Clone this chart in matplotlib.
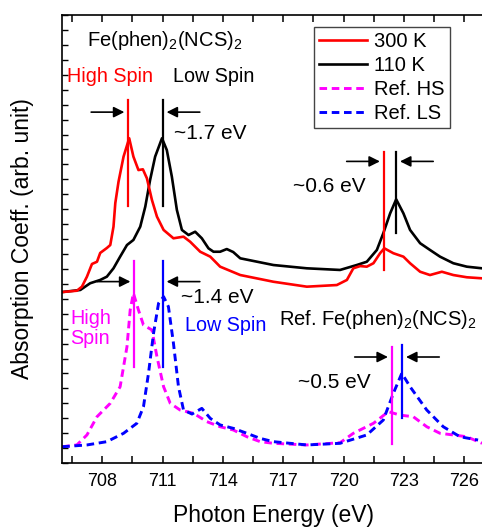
import matplotlib
matplotlib.use("Agg")
import matplotlib.pyplot as plt
from matplotlib.ticker import MultipleLocator, NullFormatter

plt.rcParams["font.family"] = ["Liberation Sans", "DejaVu Sans"]
plt.rcParams["mathtext.default"] = "regular"

# 300 K (high spin) spectrum
e_300 = [706.01, 706.74, 706.99, 707.24, 707.49, 707.74, 707.90, 708.23, 708.40, 708.56,
         708.65, 708.81, 709.06, 709.34, 709.55, 709.80, 710.02, 710.22, 710.47, 710.72,
         711.05, 711.54, 712.04, 712.37, 712.87, 713.37, 713.86, 714.86, 716.51, 718.17,
         719.66, 720.16, 720.48, 720.82, 721.15, 721.48, 721.81, 722.02, 722.47, 722.97,
         723.30, 723.80, 724.29, 724.88, 725.45, 726.12, 726.88]
a_300 = [11.45, 11.54, 11.81, 12.48, 13.33, 13.48, 14.07, 14.40, 14.60, 15.83,
         17.41, 18.84, 20.52, 21.75, 20.52, 19.62, 19.67, 19.07, 17.62, 16.50,
         15.61, 15.05, 15.16, 14.82, 14.15, 13.82, 13.15, 12.59, 12.14, 11.81,
         11.92, 12.26, 13.04, 13.19, 13.15, 13.38, 14.05, 14.38, 14.05, 13.82,
         13.38, 12.81, 12.59, 12.81, 12.59, 12.44, 12.37]

# 110 K (low spin) spectrum
e_110 = [706.01, 706.91, 707.40, 707.90, 708.23, 708.56, 708.89, 709.23, 709.55, 709.89,
         710.14, 710.38, 710.63, 710.97, 711.21, 711.46, 711.71, 711.96, 712.29, 712.62,
         712.95, 713.28, 713.53, 713.86, 714.19, 714.51, 714.86, 716.51, 718.17, 719.82,
         720.65, 721.15, 721.65, 721.97, 722.31, 722.61, 722.97, 723.30, 723.80, 724.29,
         724.79, 725.45, 726.12, 726.88]
a_110 = [11.45, 11.59, 12.04, 12.26, 12.48, 13.04, 13.82, 14.60, 14.94, 15.83,
         17.17, 18.96, 20.52, 21.75, 20.96, 19.18, 16.95, 15.61, 15.27, 15.49,
         15.05, 14.38, 14.15, 14.15, 14.33, 14.13, 13.71, 13.26, 13.04, 12.93,
         13.26, 13.48, 14.27, 15.39, 16.72, 17.66, 16.72, 15.61, 14.72, 14.27,
         13.82, 13.38, 13.15, 13.04]

# reference high spin spectrum
e_ref_hs = [706.01, 706.74, 707.24, 707.74, 708.40, 708.89, 709.23, 709.39, 709.55, 709.80,
            710.05, 710.47, 710.72, 711.05, 711.38, 711.87, 712.54, 713.20, 713.86, 714.52,
            715.19, 715.85, 716.51, 718.17, 719.82, 720.48, 721.48, 722.22, 722.80, 723.46,
            724.13, 724.79, 725.45, 726.12, 726.88]
a_ref_hs = [1.09, 1.21, 1.88, 3.10, 4.00, 5.11, 7.79, 10.25, 11.37, 10.25,
            9.24, 8.91, 7.12, 5.11, 4.00, 3.55, 3.33, 2.77, 2.43, 2.21,
            1.76, 1.43, 1.32, 1.21, 1.36, 1.99, 2.66, 3.44, 3.21, 3.10,
            2.43, 1.99, 1.88, 1.76, 1.32]

# reference low spin spectrum
e_ref_ls = [706.01, 707.24, 708.23, 709.06, 709.72, 710.05, 710.30, 710.55, 710.80, 711.05,
            711.29, 711.54, 711.79, 712.04, 712.46, 712.95, 713.37, 713.86, 714.52, 715.19,
            715.85, 716.51, 718.17, 719.82, 721.15, 721.97, 722.47, 722.89, 723.30, 724.13,
            724.95, 725.78, 726.68]
a_ref_ls = [1.09, 1.21, 1.43, 1.99, 2.66, 3.77, 6.01, 8.69, 10.70, 11.14,
            10.47, 8.02, 5.11, 3.55, 3.28, 3.66, 2.99, 2.55, 2.32, 1.99,
            1.65, 1.43, 1.21, 1.32, 1.88, 2.88, 4.67, 6.01, 5.11, 3.55,
            2.43, 1.76, 1.54]

# peak positions (L3, L2) used for the markers and shift labels
peak_300 = [709.3, 722.0]
peak_110 = [711.0, 722.6]
peak_ref_hs = [709.6, 722.4]
peak_ref_ls = [711.0, 722.9]

RED, BLACK, MAG, BLUE = "#ff0000", "#000000", "#ff00ff", "#0000ff"
DASH = (0, (2.6, 1.6))

fig = plt.figure(figsize=(4.82, 5.27), dpi=100)
ax = fig.add_axes([0.1286, 0.1214, 0.8766, 0.850])

h110, = ax.plot(e_110, a_110, color=BLACK, lw=1.9, label="110 K")
h300, = ax.plot(e_300, a_300, color=RED, lw=1.9, label="300 K")
hhs, = ax.plot(e_ref_hs, a_ref_hs, color=MAG, lw=2.1, ls=DASH, label="Ref. HS")
hls, = ax.plot(e_ref_ls, a_ref_ls, color=BLUE, lw=2.1, ls=DASH, label="Ref. LS")


def shift_marker(x_hs, x_ls, c_hs, c_ls, span_hs, span_ls, y_arrow, text_xy, gap=0.2, length=1.65):
    ax.plot([x_hs, x_hs], span_hs, color=c_hs, lw=1.6)
    ax.plot([x_ls, x_ls], span_ls, color=c_ls, lw=1.6)
    arrow = dict(arrowstyle="-|>", color="k", lw=1.2, mutation_scale=16, shrinkA=0, shrinkB=0)
    ax.annotate("", xy=(x_hs - gap, y_arrow), xytext=(x_hs - gap - length, y_arrow), arrowprops=arrow)
    ax.annotate("", xy=(x_ls + gap, y_arrow), xytext=(x_ls + gap + length, y_arrow), arrowprops=arrow)
    ax.text(text_xy[0], text_xy[1], f"~{x_ls - x_hs:.1f} eV", fontsize=15, va="center", ha="left")


# measured L3 / L2 shifts
shift_marker(peak_300[0], peak_110[0], RED, BLACK, (17.2, 24.3), (17.2, 24.3), 23.5, (711.55, 22.1))
shift_marker(peak_300[1], peak_110[1], RED, BLACK, (12.9, 20.8), (15.4, 20.8), 20.2, (717.5, 18.5))
# reference L3 / L2 shifts
shift_marker(peak_ref_hs[0], peak_ref_ls[0], MAG, BLUE, (6.4, 13.5), (6.4, 13.5), 12.15, (711.9, 11.1))
shift_marker(peak_ref_hs[1], peak_ref_ls[1], MAG, BLUE, (1.3, 7.8), (3.0, 7.9), 7.1, (717.75, 5.4))

ax.text(707.23, 28.33, "Fe(phen)$_2$(NCS)$_2$", fontsize=14.5, va="center", ha="left")
ax.text(706.25, 25.87, "High Spin", color=RED, fontsize=14.2, va="center", ha="left")
ax.text(711.53, 25.87, "Low Spin", color=BLACK, fontsize=14.2, va="center", ha="left")
ax.text(706.41, 9.0, "High\nSpin", color=MAG, fontsize=14.2, va="center", ha="left", linespacing=1.1)
ax.text(712.12, 9.24, "Low Spin", color=BLUE, fontsize=14.2, va="center", ha="left")
ax.text(716.79, 9.58, "Ref. Fe(phen)$_2$(NCS)$_2$", fontsize=14.5, va="center", ha="left")

ax.set_xlim(706, 727)
ax.set_ylim(0, 30)
ax.xaxis.set_major_locator(MultipleLocator(3))
ax.xaxis.set_minor_locator(MultipleLocator(1.5))
ax.yaxis.set_major_locator(MultipleLocator(1))
ax.yaxis.set_major_formatter(NullFormatter())
ax.tick_params(axis="x", which="both", direction="in", top=True, length=5, width=1.1,
               labelsize=13, pad=7)
ax.tick_params(axis="y", which="both", direction="in", right=False, length=4, width=1.0)
for s in ax.spines.values():
    s.set_linewidth(1.2)

ax.set_xlabel("Photon Energy (eV)", fontsize=16.5, labelpad=10)
ax.set_ylabel("Absorption Coeff. (arb. unit)", fontsize=16.5, labelpad=17)

leg = ax.legend(handles=[h300, h110, hhs, hls], loc="upper left", bbox_to_anchor=(0.5964, 0.974),
                borderaxespad=0, fontsize=14.5, handlelength=2.4, handletextpad=0.35,
                labelspacing=0.25, borderpad=0.25, fancybox=False, framealpha=1)
leg.get_frame().set_edgecolor("#444444")
leg.get_frame().set_linewidth(1.0)

fig.savefig("out.png", dpi=100)
